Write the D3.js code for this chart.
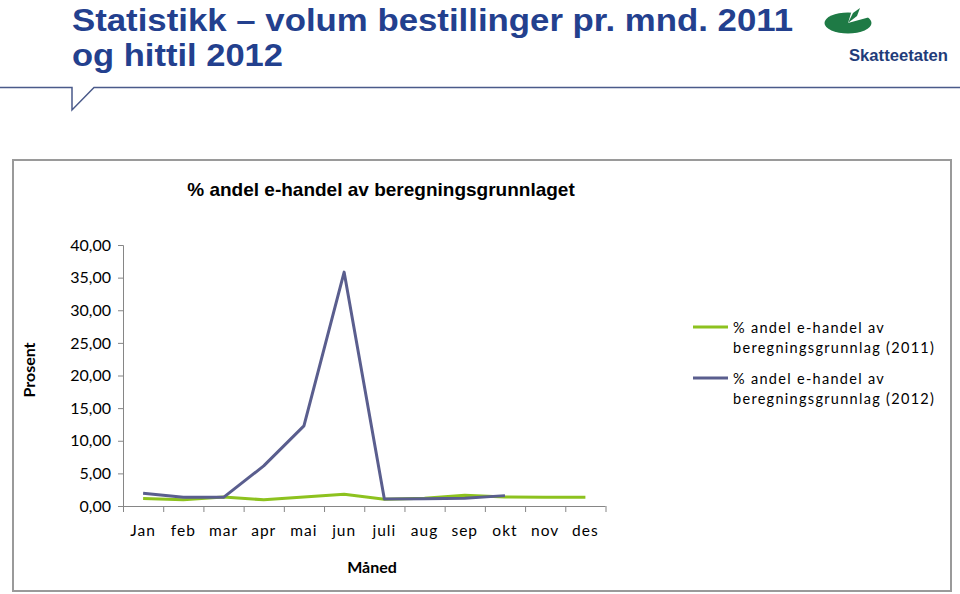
<!DOCTYPE html>
<html><head><meta charset="utf-8">
<script src="https://cdn.jsdelivr.net/npm/d3@7"></script>
<style>body{margin:0;background:#fff}svg{display:block}</style>
</head><body><svg id="c" width="960" height="594"></svg>
<script>
const months = ["Jan","feb","mar","apr","mai","jun","juli","aug","sep","okt","nov","des"];
const values2011 = [1.14,0.95,1.38,0.95,1.38,1.79,1.03,1.18,1.64,1.38,1.36,1.36];
const values2012 = [1.95,1.33,1.33,6.14,12.28,35.84,1.08,1.1,1.18,1.59];
const yTicks = [0,5,10,15,20,25,30,35,40];
const seriesNames = ["% andel e-handel av|beregningsgrunnlag (2011)","% andel e-handel av|beregningsgrunnlag (2012)"];
const colors = ["#8dc21f","#5a5e8e"];

const svg = d3.select("#c");
const calibri = "Lato, 'Open Sans', sans-serif";

// header
const tFont = "'Liberation Sans Narrow','Liberation Sans',Arial,sans-serif";
svg.append("text").attr("x",72).attr("y",30.5).attr("font-family",tFont)
  .attr("font-weight","bold").attr("font-size",31).attr("fill","#23408e")
  .attr("textLength",721).attr("lengthAdjust","spacingAndGlyphs")
  .text("Statistikk – volum bestillinger pr. mnd. 2011");
svg.append("text").attr("x",72).attr("y",65.5).attr("font-family",tFont)
  .attr("font-weight","bold").attr("font-size",31).attr("fill","#23408e")
  .attr("textLength",211).attr("lengthAdjust","spacingAndGlyphs")
  .text("og hittil 2012");
svg.append("path").attr("d","M0,87.5H72V110L94,87.5H960").attr("fill","none").attr("stroke","#4a5a8a").attr("stroke-width",1.5);

// logo
const lg = svg.append("g");
lg.append("ellipse").attr("cx",848).attr("cy",23).attr("rx",23.5).attr("ry",10.5).attr("fill","#1e7a45");
lg.append("path").attr("d","M848,23L852,10L866,8L870,17Z").attr("fill","#fff");
lg.append("path").attr("d","M848,23L853,13L860,8L857,16Z").attr("fill","#1e7a45");
svg.append("text").attr("x",849).attr("y",61).attr("font-family","'Liberation Sans',Arial,sans-serif")
  .attr("font-weight","bold").attr("font-size",16.5).attr("fill","#1f3c7a")
  .attr("textLength",99).attr("lengthAdjust","spacingAndGlyphs").text("Skatteetaten");

// frame
svg.append("rect").attr("x",13).attr("y",160).attr("width",938).attr("height",431)
  .attr("fill","none").attr("stroke","#9a9a9a").attr("stroke-width",2);

// chart title
svg.append("text").attr("x",381).attr("y",196).attr("text-anchor","middle").attr("font-family","'Liberation Sans',Arial,sans-serif")
  .attr("font-weight","bold").attr("font-size",19).attr("fill","#000").text("% andel e-handel av beregningsgrunnlaget");

const x = d3.scaleBand().domain(months).range([123,605.5]);
const y = d3.scaleLinear().domain([0,40]).range([506,245]);

const yAxis = svg.append("g").attr("transform","translate(123,0)")
  .call(d3.axisLeft(y).tickValues(yTicks).tickSize(5).tickPadding(7).tickFormat(d=>d3.format(".2f")(d).replace(".",",")));
yAxis.select(".domain").attr("stroke","#868686").attr("d","M-5,245.5H0.5V506");
yAxis.selectAll(".tick line").attr("stroke","#868686");
yAxis.selectAll("text").attr("font-family",calibri).attr("font-size",16).attr("fill","#000");

const xAxis = svg.append("g").attr("transform","translate(0,506)")
  .call(d3.axisBottom(x).tickSize(0).tickPadding(19));
xAxis.select(".domain").attr("stroke","#868686").attr("d","M123,0.5H605.5");
xAxis.selectAll("text").attr("font-family",calibri).attr("font-size",15.5).attr("fill","#000").attr("letter-spacing","1px");
const xt = months.map(m=>x(m)).concat([x.range()[1]]);
xAxis.selectAll("line.sep").data(xt).enter().append("line").attr("class","sep")
  .attr("x1",d=>d+0.5).attr("x2",d=>d+0.5).attr("y1",0).attr("y2",6).attr("stroke","#868686");

svg.append("text").attr("transform","translate(35,370) rotate(-90)").attr("text-anchor","middle")
  .attr("font-family",calibri).attr("font-weight","bold").attr("font-size",16).text("Prosent");
svg.append("text").attr("x",372).attr("y",573).attr("text-anchor","middle")
  .attr("font-family",calibri).attr("font-weight","bold").attr("font-size",16).text("Måned");

const line = d3.line().x((d,i)=>x(months[i])+x.bandwidth()/2).y(d=>y(d));
[values2011, values2012].forEach((vals,k)=>{
  svg.append("path").datum(vals).attr("d",line).attr("fill","none")
    .attr("stroke",colors[k]).attr("stroke-width",3).attr("stroke-linejoin","round");
});

// legend
seriesNames.forEach((n,k)=>{
  const yy = 327 + k*51;
  svg.append("line").attr("x1",693).attr("x2",728).attr("y1",yy).attr("y2",yy).attr("stroke",colors[k]).attr("stroke-width",3);
  const parts = n.split("|");
  parts.forEach((p,j)=>{
    svg.append("text").attr("x",733).attr("y",yy+6+j*20).attr("font-family",calibri).attr("font-size",14.5)
      .attr("letter-spacing","1.3px").attr("fill","#000").text(p);
  });
});
</script></body></html>
